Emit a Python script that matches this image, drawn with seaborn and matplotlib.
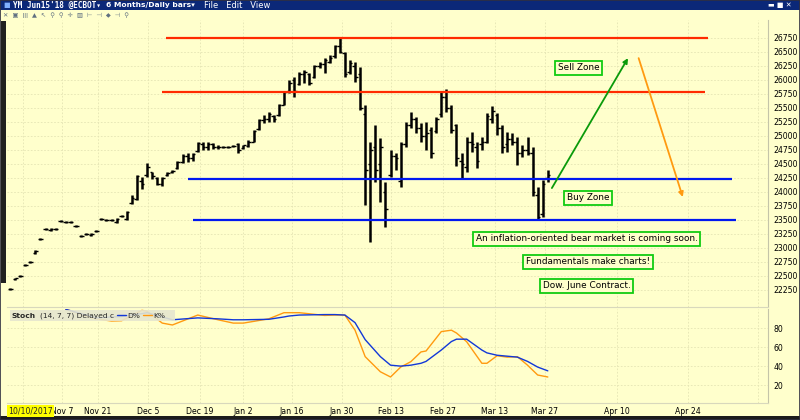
import matplotlib
matplotlib.use('Agg')
import matplotlib.pyplot as plt
from matplotlib.patches import Rectangle
from matplotlib.lines import Line2D
import seaborn as sns

# daily bars of the YM June contract (one per trading day)
lows = [22250, 22430, 22480, 22680, 22730, 22900, 23140, 23320, 23300, 23320,
        23460, 23440, 23440, 23370, 23190, 23230, 23220, 23280, 23500, 23480,
        23480, 23450, 23550, 23500, 23790, 23860, 24050, 24270, 24230, 24130,
        24110, 24290, 24340, 24410, 24520, 24540, 24560, 24710, 24750, 24750,
        24760, 24770, 24780, 24780, 24800, 24700, 24770, 24800, 24890, 25110,
        25230, 25250, 25250, 25360, 25550, 25770, 25700, 25910, 25950, 25910,
        26040, 26210, 26120, 26300, 26390, 26480, 26050, 26100, 25960, 25460,
        23770, 23110, 24180, 23820, 23380, 24270, 24390, 24090, 24800, 25140,
        25050, 24890, 24750, 24610, 25050, 25340, 25430, 25050, 24470, 24230,
        24360, 24710, 24430, 24750, 24880, 25230, 25020, 24700, 24710, 24840,
        24480, 24630, 24660, 23930, 23520, 23550, 24180]
highs = [22290, 22470, 22520, 22720, 22770, 22960, 23180, 23360, 23350, 23360,
         23500, 23480, 23480, 23410, 23230, 23270, 23270, 23320, 23540, 23520,
         23520, 23540, 23590, 23660, 23950, 24300, 24270, 24520, 24360, 24270,
         24270, 24350, 24390, 24550, 24680, 24700, 24700, 24890, 24890, 24890,
         24880, 24840, 24820, 24820, 24840, 24880, 24840, 24930, 25110, 25300,
         25370, 25430, 25370, 25570, 25790, 26000, 26050, 26140, 26180, 26120,
         26270, 26320, 26390, 26450, 26620, 26750, 26500, 26360, 26320, 26230,
         25560, 24890, 25200, 24960, 24180, 24750, 24700, 24890, 25250, 25430,
         25340, 25230, 25250, 25160, 25340, 25790, 25840, 25550, 25210, 24700,
         24980, 25070, 24890, 24980, 25410, 25540, 25410, 25200, 25070, 25050,
         24980, 24840, 24980, 24800, 24090, 24210, 24390]
opens = [22270, 22440, 22500, 22700, 22750, 22910, 23160, 23340, 23320, 23340,
         23480, 23460, 23460, 23390, 23210, 23250, 23230, 23300, 23520, 23500,
         23500, 23460, 23570, 23510, 23800, 23880, 24200, 24300, 24350, 24250,
         24150, 24300, 24350, 24430, 24540, 24650, 24600, 24730, 24850, 24800,
         24850, 24800, 24800, 24800, 24820, 24850, 24780, 24820, 24900, 25120,
         25280, 25300, 25350, 25380, 25560, 25800, 26000, 25930, 26100, 26100,
         26050, 26250, 26280, 26320, 26420, 26600, 26480, 26150, 26250, 26100,
         25400, 24500, 24800, 24500, 24000, 24300, 24650, 24200, 24850, 25200,
         25300, 25150, 25000, 25100, 25080, 25400, 25700, 25500, 25200, 24550,
         24450, 24900, 24800, 24850, 24900, 25300, 25380, 25150, 24850, 24950,
         24900, 24700, 24750, 24700, 23950, 23600, 24250]
closes = [22270, 22460, 22500, 22700, 22750, 22950, 23160, 23340, 23330, 23340,
          23480, 23460, 23460, 23390, 23210, 23250, 23250, 23300, 23520, 23500,
          23500, 23520, 23570, 23650, 23900, 24280, 24150, 24450, 24280, 24150,
          24250, 24330, 24370, 24530, 24650, 24600, 24680, 24870, 24800, 24850,
          24800, 24810, 24800, 24800, 24820, 24750, 24830, 24900, 25080, 25280,
          25300, 25400, 25300, 25550, 25780, 25950, 25800, 26100, 26150, 25950,
          26250, 26280, 26350, 26400, 26600, 26500, 26100, 26300, 26050, 25500,
          24400, 24750, 24400, 24800, 23700, 24650, 24600, 24850, 25200, 25300,
          25150, 25000, 25050, 24700, 25300, 25700, 25500, 25100, 24600, 24500,
          24900, 24850, 24550, 24900, 25350, 25450, 25150, 24800, 24950, 24900,
          24700, 24750, 24700, 24000, 23550, 24150, 24300]

# stochastic (14, 7, 7), sampled at bar indices
stoch_idx = [11, 15, 17, 20, 22, 26, 27, 30, 32, 37, 41, 44, 46, 51, 54, 55, 57, 62, 64, 66,
             68, 70, 73, 75, 77, 79, 81, 82, 85, 87, 88, 90, 93, 94, 96, 98, 100, 102, 104, 106]
stoch_d = [100, 94, 91, 92, 92.5, 95.5, 96.5, 92, 89, 91, 90, 89, 89, 89.5, 92, 93, 94, 94.5, 94.5, 94,
           86, 68, 50, 41, 40, 41, 43, 45, 57, 66, 68.5, 68.5, 57, 54, 51.5, 50.5, 49.5, 45, 39, 35]
stoch_k = [100, 93, 90, 87.7, 88, 99, 98, 85.5, 83.5, 94, 89, 85.5, 85.5, 90, 96.5, 96.5, 96.5, 93.6, 94, 94,
           78, 50, 34, 28.5, 39, 44.7, 55, 56, 76.5, 78, 75, 65.8, 43, 43, 51, 49.5, 50, 41, 30.6, 28.5]

# date axis (positions in trading-day units, future area in calendar spacing)
date_labels = ['', 'Nov 7', 'Nov 21', 'Dec 5', 'Dec 19', 'Jan 2', 'Jan 16', 'Jan 30',
               'Feb 13', 'Feb 27', 'Mar 13', 'Mar 27', 'Apr 10', 'Apr 24', '']
date_pos = [2.6, 10.2, 17.3, 27.2, 37.4, 45.9, 55.6, 65.4, 75.1, 85.3, 95.6, 105.4,
            119.6, 133.6, 147.4]
price_ticks = list(range(22250, 26751, 250))
stoch_ticks = [20, 40, 60, 80]

# hand-drawn levels
red_levels = [26750, 25780]
red_start = [30.7, 30.0]
red_end = [137.5, 137.0]
blue_levels = [24230, 23500]
blue_start = [35.0, 36.0]
blue_end = [142.3, 143.0]

# hand-drawn arrows: (x0, y0) -> (x1, y1)
up_arrow = [(106.8, 24070), (121.8, 26390)]
down_arrow = [(123.9, 26390), (132.6, 23910)]

notes = ['Sell Zone', 'Buy Zone', 'An inflation-oriented bear market is coming soon.',
         'Fundamentals make charts!', 'Dow. June Contract.']
note_x = [112.1, 113.9, 113.7, 113.9, 113.7]
note_y = [26214, 23893, 23161, 22750, 22321]

BG = '#ffffcc'
GRID = '#e4e4b4'

sns.set_style('white')
plt.rcParams['font.family'] = ['DejaVu Sans']

fig = plt.figure(figsize=(8, 4.2), dpi=100)
fig.patch.set_facecolor(BG)

W, H = 800.0, 420.0


def fbox(x0, y0, x1, y1):
    return [x0 / W, 1 - y1 / H, (x1 - x0) / W, (y1 - y0) / H]


ax = fig.add_axes(fbox(7, 20, 768, 307))
ax2 = fig.add_axes(fbox(7, 309, 768, 403), sharex=ax)

for a in (ax, ax2):
    a.set_facecolor(BG)
    for s in a.spines.values():
        s.set_visible(False)
    a.spines['right'].set_visible(True)
    a.spines['right'].set_color('#c4c4a8')
    a.spines['bottom'].set_visible(True)
    a.spines['bottom'].set_color('#d8d8bc')
    a.yaxis.tick_right()
    a.tick_params(axis='both', length=0, labelsize=5.6, colors='black', pad=4)
    a.grid(True, color=GRID, linestyle=(0, (2, 2)), linewidth=0.6)

# price bars
idx = list(range(len(highs)))
ax.vlines(idx, lows, highs, color='black', linewidth=1.8, zorder=3)
ax.hlines(opens, [i - 0.5 for i in idx], idx, color='black', linewidth=1.0, zorder=3)
ax.hlines(closes, idx, [i + 0.5 for i in idx], color='black', linewidth=1.0, zorder=3)

ax.hlines(red_levels, red_start, red_end, color='#ff2a00', linewidth=1.6, zorder=4)
ax.hlines(blue_levels, blue_start, blue_end, color='#0018f0', linewidth=1.6, zorder=4)

ax.annotate('', xy=up_arrow[1], xytext=up_arrow[0],
            arrowprops=dict(arrowstyle='-|>', color='#0a9a0a', lw=1.3, mutation_scale=7,
                            shrinkA=0, shrinkB=0), zorder=5)
ax.annotate('', xy=down_arrow[1], xytext=down_arrow[0],
            arrowprops=dict(arrowstyle='-|>', color='#ff9a10', lw=1.3, mutation_scale=7,
                            shrinkA=0, shrinkB=0), zorder=5)

for t, x, y in zip(notes, note_x, note_y):
    ax.text(x, y, t, ha='center', va='center', fontsize=6.4,
            family=['Liberation Sans Narrow', 'DejaVu Sans'], color='black', zorder=6,
            bbox=dict(boxstyle='square,pad=0.3', facecolor=BG, edgecolor='#11cc11', linewidth=1.3))

ax.set_ylim(21946, 27071)
ax.set_yticks(price_ticks)
ax.set_yticklabels([str(p) for p in price_ticks])
ax.set_xlim(-0.6, 149.4)
ax.set_xticks(date_pos)
plt.setp(ax.get_xticklabels(), visible=False)

# stochastic panel
sns.lineplot(x=stoch_idx, y=stoch_k, ax=ax2, color='#ff9a10', linewidth=1.0, zorder=3)
sns.lineplot(x=stoch_idx, y=stoch_d, ax=ax2, color='#1238d8', linewidth=1.0, zorder=4)
ax2.set_ylim(1, 100.4)
ax2.set_yticks(stoch_ticks)
ax2.set_yticklabels([str(v) for v in stoch_ticks])
ax2.set_xticks(date_pos)
ax2.set_xticklabels(date_labels)
ax2.tick_params(axis='x', pad=3)
ax2.set_xlabel('')
ax2.set_ylabel('')

# stoch legend strip
fig.add_artist(Rectangle((10 / W, 1 - 321 / H), 165 / W, 11 / H, transform=fig.transFigure,
                         facecolor='#e6e6cf', edgecolor='none', alpha=0.9, zorder=5))
fig.text(12 / W, 1 - 316 / H, 'Stoch', fontsize=5.4, weight='bold', va='center', zorder=6)
fig.text(40 / W, 1 - 316 / H, '(14, 7, 7) Delayed c', fontsize=5.4, va='center', zorder=6)
fig.add_artist(Line2D([117 / W, 126 / W], [1 - 315 / H] * 2, color='#1238d8', lw=1.0,
                      transform=fig.transFigure, zorder=6))
fig.text(127 / W, 1 - 316 / H, 'D%', fontsize=5.4, va='center', zorder=6)
fig.add_artist(Line2D([143 / W, 152 / W], [1 - 315 / H] * 2, color='#ff9a10', lw=1.0,
                      transform=fig.transFigure, zorder=6))
fig.text(153 / W, 1 - 316 / H, 'K%', fontsize=5.4, va='center', zorder=6)

# first-date marker in the corner
fig.text(8 / W, 1 - 411 / H, '10/10/2017', fontsize=5.6, va='center', ha='left', zorder=7,
         bbox=dict(boxstyle='square,pad=0.15', facecolor='#ffff00', edgecolor='none'))

# window chrome: title bar, toolbar, scrollbar, bottom edge
fig.add_artist(Rectangle((0, 1 - 9.5 / H), 1, 9.5 / H, transform=fig.transFigure,
                         facecolor='#0b2878', edgecolor='none', zorder=1))
fig.text(3 / W, 1 - 5 / H, '■', fontsize=5, color='#7fb0ff', va='center')
fig.text(13 / W, 1 - 5 / H, "YM Jun15'18 @ECBOT▾", fontsize=5.6, color='white', va='center',
         family='DejaVu Sans Mono', weight='bold')
fig.text(106 / W, 1 - 5 / H, '6 Months/Daily bars▾', fontsize=5.4, color='white', va='center',
         weight='bold')
fig.text(204 / W, 1 - 5 / H, 'File   Edit   View', fontsize=6, color='white', va='center')
fig.text(792 / W, 1 - 5 / H, '▬ ■ ✕', fontsize=5, color='white', va='center', ha='right')
fig.text(3 / W, 1 - 15 / H, '✕  ▣  ǀǀǀ  ▲  ↖  ⚲  ⚲  ✛  ▨  ⊢  ⊣  ◆  ⊣  ⚲', fontsize=4.6,
         color='#607080', va='center')
fig.add_artist(Rectangle((1 / W, 1 - 283 / H), 5 / W, 262 / H, transform=fig.transFigure,
                         facecolor='#202020', edgecolor='none', zorder=2))
fig.add_artist(Rectangle((0, 0), 1, 4 / H, transform=fig.transFigure,
                         facecolor='#1c1c1c', edgecolor='none', zorder=2))
fig.add_artist(Rectangle((0, 0), 1, 1, transform=fig.transFigure, fill=False,
                         edgecolor='#303040', linewidth=1.2, zorder=8))

fig.savefig('out.png', dpi=100, facecolor=BG)
